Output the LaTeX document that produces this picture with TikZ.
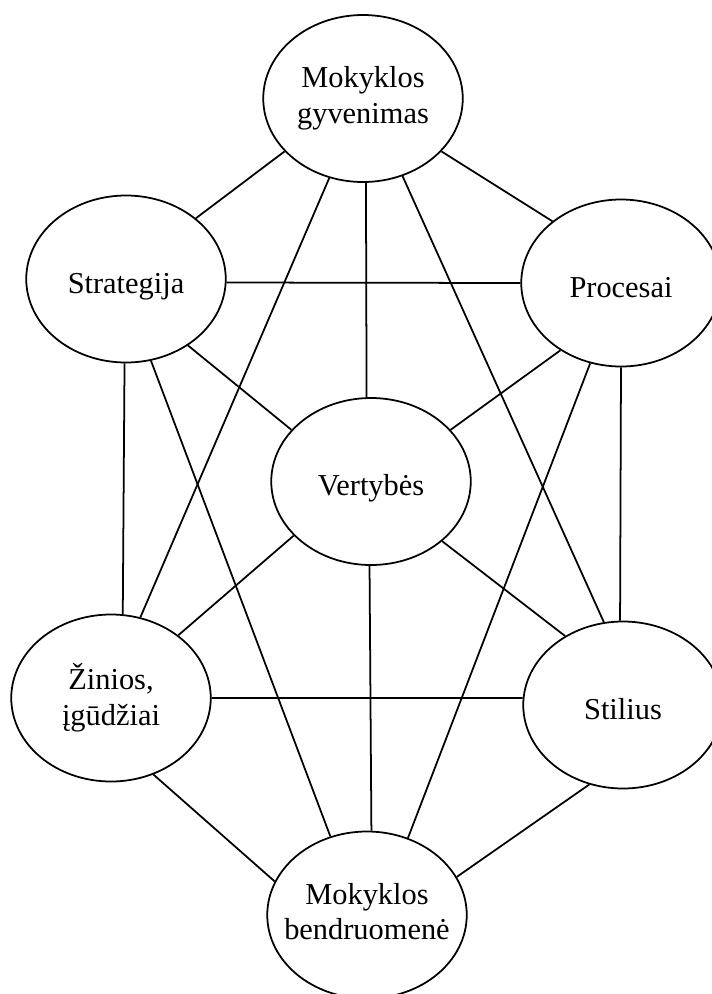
\documentclass[tikz,border=0pt]{standalone}
\usepackage{fontspec}
\setmainfont{Liberation Serif}
\usepackage{tikz}
\usetikzlibrary{shapes.geometric}

\begin{document}
\begin{tikzpicture}[
	bubble/.style={draw, ellipse, line width=1pt,
		minimum width=3.99cm, minimum height=3.34cm, inner sep=-1cm,
		align=center, font=\fontsize{17.3}{20.4}\selectfont,
		execute at begin node={\rule{0pt}{20pt}},
		execute at end node={\rule[-4pt]{0pt}{4pt}}},
	link/.style={line width=1pt}
	]
	
	\clip (0,0) rectangle (14.24,-19.88);
	
	\node[bubble] (gyv) at (7.26,-1.97) {Mokyklos\\gyvenimas};
	\node[bubble] (strat) at (2.52,-5.58) {Strategija};
	\node[bubble] (proc) at (12.42,-5.66) {Procesai};
	\node[bubble] (vert) at (7.42,-9.63) {Vertybės};
	\node[bubble] (zin) at (2.22,-13.96) {Žinios,\\įgūdžiai};
	\node[bubble] (stil) at (12.46,-14.10) {Stilius};
	\node[bubble] (bend) at (7.34,-18.30) {Mokyklos\\bendruomenė};
	
	\draw[link] (gyv.214) -- (strat.41);
	\draw[link] (gyv.-34) -- (proc.138);
	\draw[link] (gyv.-88) -- (vert.93);
	\draw[link] (gyv.-113) -- (zin.70);
	\draw[link] (gyv.-63) -- (stil.103);
	
	\draw[link] (strat.-2) -- (proc.180);
	\draw[link] (strat.-47) -- (vert.147);
	\draw[link] (strat.-91) -- (zin.82);
	\draw[link] (strat.-73) -- (bend.115);
	
	\draw[link] (proc.-132) -- (vert.33);
	\draw[link] (proc.-90) -- (stil.92);
	\draw[link] (proc.-111) -- (bend.62);
	
	\draw[link] (vert.-145) -- (zin.43);
	\draw[link] (vert.-40) -- (stil.130);
	\draw[link] (vert.-91) -- (bend.87);
	
	\draw[link] (zin.0) -- (stil.176);
	\draw[link] (zin.-61) -- (bend.160);
	\draw[link] (stil.-113) -- (bend.23);
	
\end{tikzpicture}
\end{document}
